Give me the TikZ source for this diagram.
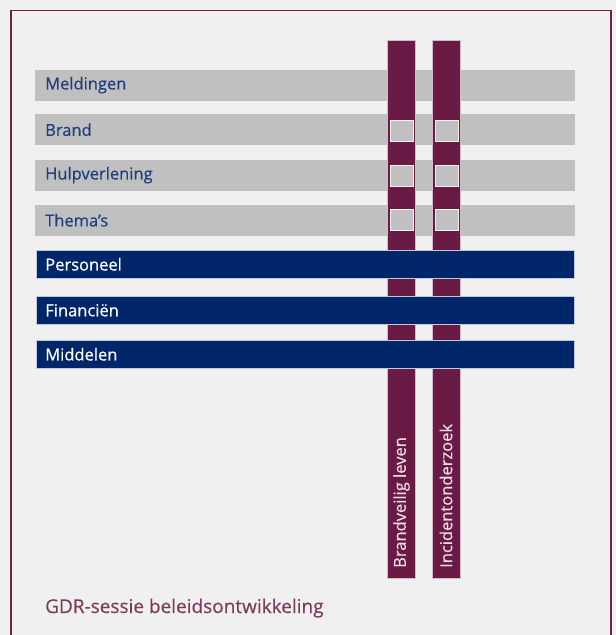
\documentclass[tikz,border=0pt]{standalone}
\usepackage{fontspec}
\setmainfont{Open Sans}
\newfontfamily\semib[FakeBold=0.5]{Open Sans}
\newfontfamily\semia[FakeBold=0.25]{Open Sans}
\definecolor{bgc}{HTML}{F0F0F0}
\definecolor{framec}{HTML}{6E2248}
\definecolor{grayc}{HTML}{C0C0C0}
\definecolor{maroonc}{HTML}{6A1B45}
\definecolor{navyc}{HTML}{00266A}
\definecolor{graytext}{HTML}{1F3F7F}
\definecolor{foottext}{HTML}{7E3A5C}
\definecolor{vtext}{HTML}{EADCE3}
\begin{document}
\begin{tikzpicture}[x=1pt,y=-1pt,
  rowfont/.style={font=\semib\fontsize{16.5}{19}\selectfont},
  graybar/.style={rowfont, fill=grayc, draw=none, anchor=north west, minimum width=540pt, minimum height=31pt,
    text width=520pt, inner xsep=10pt, inner ysep=0pt, align=left, text=graytext},
  navybar/.style={rowfont, fill=navyc, draw=white!75!navyc, line width=0.6pt, anchor=north west, minimum width=538pt, minimum height=28pt,
    text width=520pt, inner xsep=9pt, inner ysep=0pt, align=left, text=white},
  vbar/.style={fill=maroonc, draw=white!70!maroonc, line width=0.5pt, anchor=north west, minimum width=28pt, minimum height=538pt, inner sep=0pt},
  sq/.style={fill=grayc, draw=white!80!grayc, line width=0.4pt, anchor=north west, minimum width=23pt, minimum height=21pt, inner sep=0pt},
  vlabel/.style={rotate=90, anchor=west, text=vtext, inner sep=0pt, font=\semib\fontsize{16.5}{18}\selectfont}]
\useasboundingbox (0,0) rectangle (616,635);
\fill[bgc] (0,0) rectangle (616,635);
\draw[framec, line width=1.5pt, fill=bgc] (11,700) -- (11,10.5) -- (611,10.5) -- (611,700);
% gray rows
\node[graybar] (meld) at (35,69.5) {Meldingen};
\node[graybar] (brand) at (35,114) {Brand};
\node[graybar] (hulp) at (35,159.5) {Hulpverlening};
\node[graybar] (thema) at (35,204.5) {Thema’s};
% vertical bars
\node[vbar] (v1) at (387,40) {};
\node[vbar] (v2) at (431.5,40) {};
% squares
\node[sq] (s11) at (390,120) {};
\node[sq] (s12) at (390,164.5) {};
\node[sq] (s13) at (390,209) {};
\node[sq] (s21) at (434.5,120) {};
\node[sq] (s22) at (434.5,164.5) {};
\node[sq] (s23) at (434.5,209) {};
% navy rows
\node[navybar] (pers) at (36,250) {Personeel};
\node[navybar] (fin) at (36,296) {Financiën};
\node[navybar] (midd) at (36,340) {Middelen};
% vertical labels
\node[vlabel] (l1) at (401.5,568) {Brandveilig leven};
\node[vlabel] (l2) at (446,568) {Incidentonderzoek};
% footer
\node[anchor=base west, inner sep=0pt, text=foottext, font=\semia\fontsize{19}{21}\selectfont] (foot) at (45,613) {GDR-sessie beleidsontwikkeling};
\end{tikzpicture}
\end{document}
